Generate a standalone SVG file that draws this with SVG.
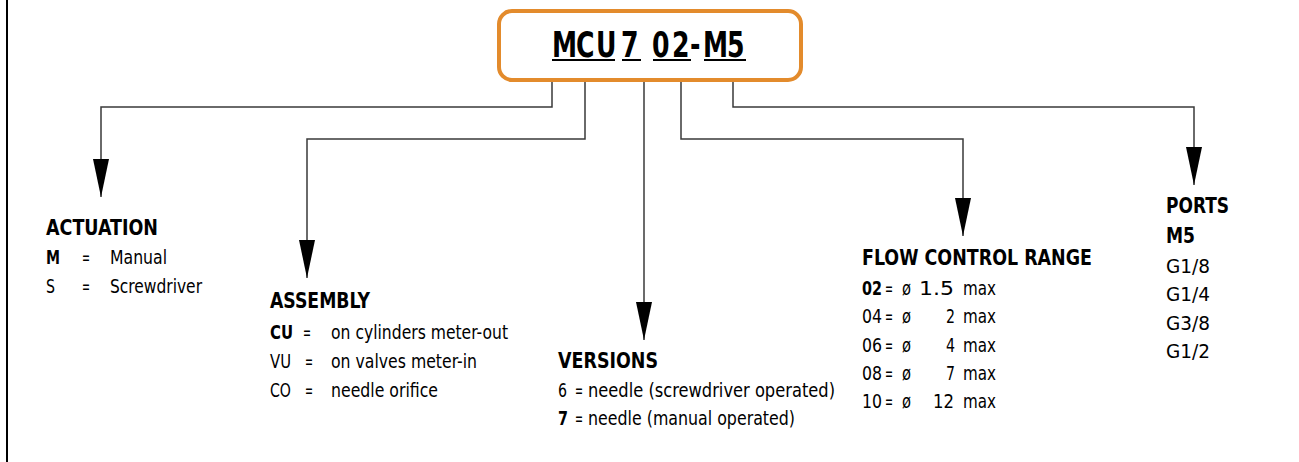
<svg xmlns="http://www.w3.org/2000/svg" width="1299" height="462" viewBox="0 0 1299 462">
<style>
text{font-family:"DejaVu Sans Condensed","DejaVu Sans","Liberation Sans",sans-serif;font-stretch:condensed;fill:#000}
.h{font-size:22px;font-weight:bold}
.r{font-size:19px}
.b{font-size:20px;font-weight:bold}
.t{font-size:35px;font-weight:bold}
.c{fill:none;stroke:#3a3a3a;stroke-width:1.5}
.u{stroke:#000;stroke-width:2}
</style>
<defs>
<marker id="ah" viewBox="0 0 38 16" refX="38" refY="8" markerWidth="38" markerHeight="16" markerUnits="userSpaceOnUse" orient="auto">
<path d="M0,0 L38,8 L0,16 Z" fill="#000"/>
</marker>
</defs>
<rect width="1299" height="462" fill="#fff"/>
<line x1="7" y1="0" x2="7" y2="462" stroke="#000" stroke-width="2"/>
<g id="connectors">
<path class="c" d="M552,82 V107 H101 V197" marker-end="url(#ah)"/>
<path class="c" d="M585,82 V139 H307 V278" marker-end="url(#ah)"/>
<path class="c" d="M644,82 V340" marker-end="url(#ah)"/>
<path class="c" d="M681,82 V139 H963 V236" marker-end="url(#ah)"/>
<path class="c" d="M733,82 V107 H1194 V185" marker-end="url(#ah)"/>
</g>
<g id="code">
<rect x="499" y="11" width="302" height="69" rx="13" fill="#fff" stroke="#E38B2C" stroke-width="4"/>
<text class="t" transform="translate(552,57) scale(0.8,1)" x="0 30 55 77.5 86.25 110 125 150 172.5 188.75 218.75" y="0">MCU 7 02-M5</text>
<line class="u" x1="552" y1="60" x2="615" y2="60"/>
<line class="u" x1="622" y1="60" x2="641" y2="60"/>
<line class="u" x1="653" y1="60" x2="691" y2="60"/>
<line class="u" x1="704" y1="60" x2="746" y2="60"/>
</g>
<g id="actuation">
<text class="h" x="46" y="235" textLength="112" lengthAdjust="spacingAndGlyphs">ACTUATION</text>
<text class="b" x="46" y="264" textLength="14" lengthAdjust="spacingAndGlyphs">M</text>
<text class="r" x="82" y="264" textLength="8" lengthAdjust="spacingAndGlyphs">=</text>
<text class="r" x="110" y="264" textLength="57" lengthAdjust="spacingAndGlyphs">Manual</text>
<text class="r" x="46" y="293" textLength="9" lengthAdjust="spacingAndGlyphs">S</text>
<text class="r" x="82" y="293" textLength="8" lengthAdjust="spacingAndGlyphs">=</text>
<text class="r" x="110" y="293" textLength="92" lengthAdjust="spacingAndGlyphs">Screwdriver</text>
</g>
<g id="assembly">
<text class="h" x="270" y="308" textLength="100" lengthAdjust="spacingAndGlyphs">ASSEMBLY</text>
<text class="b" x="270" y="339" textLength="23" lengthAdjust="spacingAndGlyphs">CU</text>
<text class="r" x="303" y="339" textLength="8" lengthAdjust="spacingAndGlyphs">=</text>
<text class="r" x="331" y="339" textLength="177" lengthAdjust="spacingAndGlyphs">on cylinders meter-out</text>
<text class="r" x="270" y="368" textLength="21" lengthAdjust="spacingAndGlyphs">VU</text>
<text class="r" x="305" y="368" textLength="8" lengthAdjust="spacingAndGlyphs">=</text>
<text class="r" x="331" y="368" textLength="146" lengthAdjust="spacingAndGlyphs">on valves meter-in</text>
<text class="r" x="270" y="397" textLength="21" lengthAdjust="spacingAndGlyphs">CO</text>
<text class="r" x="305" y="397" textLength="8" lengthAdjust="spacingAndGlyphs">=</text>
<text class="r" x="331" y="397" textLength="107" lengthAdjust="spacingAndGlyphs">needle orifice</text>
</g>
<g id="versions">
<text class="h" x="558" y="368" textLength="100" lengthAdjust="spacingAndGlyphs">VERSIONS</text>
<text class="r" x="558" y="397" textLength="9" lengthAdjust="spacingAndGlyphs">6</text>
<text class="r" x="575" y="397" textLength="8" lengthAdjust="spacingAndGlyphs">=</text>
<text class="r" x="588" y="397" textLength="247" lengthAdjust="spacingAndGlyphs">needle (screwdriver operated)</text>
<text class="b" x="558" y="425" textLength="10" lengthAdjust="spacingAndGlyphs">7</text>
<text class="r" x="575" y="425" textLength="8" lengthAdjust="spacingAndGlyphs">=</text>
<text class="r" x="588" y="425" textLength="207" lengthAdjust="spacingAndGlyphs">needle (manual operated)</text>
</g>
<g id="flow">
<text class="h" x="862" y="265" textLength="230" lengthAdjust="spacingAndGlyphs">FLOW CONTROL RANGE</text>
<text class="b" x="862" y="295" textLength="20" lengthAdjust="spacingAndGlyphs">02</text>
<text class="r" x="885" y="295" textLength="8" lengthAdjust="spacingAndGlyphs">=</text>
<text class="r" x="902" y="295" textLength="9" lengthAdjust="spacingAndGlyphs">ø</text>
<text class="r" x="919" y="295" textLength="35" lengthAdjust="spacingAndGlyphs">1.5</text>
<text class="r" x="963" y="295" textLength="33" lengthAdjust="spacingAndGlyphs">max</text>
<text class="r" x="862" y="323" textLength="20" lengthAdjust="spacingAndGlyphs">04</text>
<text class="r" x="885" y="323" textLength="8" lengthAdjust="spacingAndGlyphs">=</text>
<text class="r" x="902" y="323" textLength="9" lengthAdjust="spacingAndGlyphs">ø</text>
<text class="r" x="946" y="323" textLength="9" lengthAdjust="spacingAndGlyphs">2</text>
<text class="r" x="963" y="323" textLength="33" lengthAdjust="spacingAndGlyphs">max</text>
<text class="r" x="862" y="352" textLength="20" lengthAdjust="spacingAndGlyphs">06</text>
<text class="r" x="885" y="352" textLength="8" lengthAdjust="spacingAndGlyphs">=</text>
<text class="r" x="902" y="352" textLength="9" lengthAdjust="spacingAndGlyphs">ø</text>
<text class="r" x="946" y="352" textLength="9" lengthAdjust="spacingAndGlyphs">4</text>
<text class="r" x="963" y="352" textLength="33" lengthAdjust="spacingAndGlyphs">max</text>
<text class="r" x="862" y="380" textLength="20" lengthAdjust="spacingAndGlyphs">08</text>
<text class="r" x="885" y="380" textLength="8" lengthAdjust="spacingAndGlyphs">=</text>
<text class="r" x="902" y="380" textLength="9" lengthAdjust="spacingAndGlyphs">ø</text>
<text class="r" x="946" y="380" textLength="9" lengthAdjust="spacingAndGlyphs">7</text>
<text class="r" x="963" y="380" textLength="33" lengthAdjust="spacingAndGlyphs">max</text>
<text class="r" x="862" y="408" textLength="20" lengthAdjust="spacingAndGlyphs">10</text>
<text class="r" x="885" y="408" textLength="8" lengthAdjust="spacingAndGlyphs">=</text>
<text class="r" x="902" y="408" textLength="9" lengthAdjust="spacingAndGlyphs">ø</text>
<text class="r" x="933" y="408" textLength="21" lengthAdjust="spacingAndGlyphs">12</text>
<text class="r" x="963" y="408" textLength="33" lengthAdjust="spacingAndGlyphs">max</text>
</g>
<g id="ports">
<text class="h" x="1166" y="213" textLength="63" lengthAdjust="spacingAndGlyphs">PORTS</text>
<text class="h" x="1166" y="243" textLength="29" lengthAdjust="spacingAndGlyphs">M5</text>
<text class="r" x="1166" y="273" textLength="44" lengthAdjust="spacingAndGlyphs">G1/8</text>
<text class="r" x="1166" y="301" textLength="44" lengthAdjust="spacingAndGlyphs">G1/4</text>
<text class="r" x="1166" y="330" textLength="44" lengthAdjust="spacingAndGlyphs">G3/8</text>
<text class="r" x="1166" y="358" textLength="44" lengthAdjust="spacingAndGlyphs">G1/2</text>
</g>
</svg>
